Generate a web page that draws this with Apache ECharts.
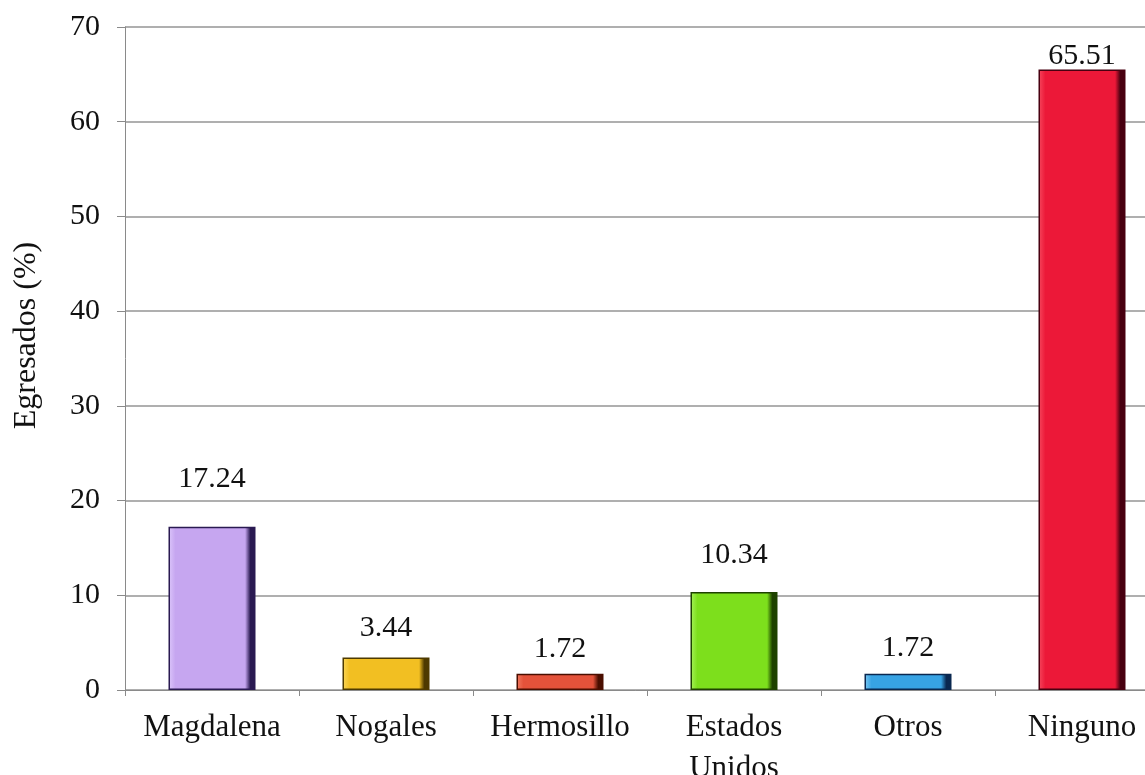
<!DOCTYPE html>
<html>
<head>
<meta charset="utf-8">
<script src="https://cdn.jsdelivr.net/npm/echarts@6/dist/echarts.min.js"></script>
<style>
  html, body { margin: 0; padding: 0; background: #fff; }
  #chart { width: 1145px; height: 775px; }
</style>
</head>
<body>
<div id="chart"></div>
<script>
// Destino de los egresados (%)
const categories = ['Magdalena', 'Nogales', 'Hermosillo', 'Estados\nUnidos', 'Otros', 'Ninguno'];
const values = [17.24, 3.44, 1.72, 10.34, 1.72, 65.51];
const valueLabels = ['17.24', '3.44', '1.72', '10.34', '1.72', '65.51'];

// Bar fill tones: [highlight, body, shade]
const barTones = [
  ['#dcc6fa', '#c6a6f0', '#2a1a52'],
  ['#fbd75a', '#f2bf22', '#4e3a00'],
  ['#f07a60', '#e4523a', '#4a0e00'],
  ['#a6f25a', '#7ddf1c', '#1e4200'],
  ['#7cc8f2', '#37a3e4', '#0a2850'],
  ['#f6485e', '#ec1838', '#480010']
];
// Gap between each value label and the top of its bar
const labelGaps = [33, 14, 10, 22, 11, -2];

const serif = '"Liberation Serif", "Times New Roman", serif';

function barFill(t) {
  return new echarts.graphic.LinearGradient(0, 0, 1, 0, [
    { offset: 0, color: t[0] },
    { offset: 0.08, color: t[1] },
    { offset: 0.88, color: t[1] },
    { offset: 0.94, color: t[2] },
    { offset: 1, color: t[2] }
  ]);
}

const seriesData = values.map((v, i) => ({
  value: v,
  itemStyle: {
    color: barFill(barTones[i]),
    borderColor: barTones[i][2],
    borderWidth: 1.5
  },
  label: { distance: labelGaps[i], formatter: valueLabels[i] }
}));

const chart = echarts.init(document.getElementById('chart'), null, { renderer: 'canvas' });
chart.setOption({
  animation: false,
  backgroundColor: '#ffffff',
  grid: {
    left: 125, top: 27, height: 663, width: 1044,
    containLabel: false,
    outerBoundsMode: 'none'
  },
  xAxis: {
    type: 'category',
    data: categories,
    axisLine: { show: true, lineStyle: { color: '#8a8a8a', width: 1 } },
    axisTick: { show: true, alignWithLabel: false, length: 6, lineStyle: { color: '#8a8a8a' } },
    axisLabel: {
      interval: 0,
      margin: 17,
      color: '#111111',
      fontFamily: serif,
      fontSize: 31,
      lineHeight: 41
    },
    splitLine: { show: false }
  },
  yAxis: {
    type: 'value',
    min: 0,
    max: 70,
    interval: 10,
    name: 'Egresados (%)',
    nameLocation: 'middle',
    nameRotate: 90,
    nameGap: 82,
    nameTextStyle: { color: '#111111', fontFamily: serif, fontSize: 32, padding: [0, 0, 0, 46] },
    axisLine: { show: true, lineStyle: { color: '#8a8a8a', width: 1 } },
    axisTick: { show: true, length: 8, lineStyle: { color: '#8a8a8a' } },
    axisLabel: { margin: 25, color: '#111111', fontFamily: serif, fontSize: 30 },
    splitLine: { show: true, lineStyle: { color: '#959595', width: 1.5 } }
  },
  series: [{
    type: 'bar',
    data: seriesData,
    barWidth: 87,
    label: {
      show: true,
      position: 'top',
      color: '#111111',
      fontFamily: serif,
      fontSize: 30
    }
  }]
});
</script>
</body>
</html>
